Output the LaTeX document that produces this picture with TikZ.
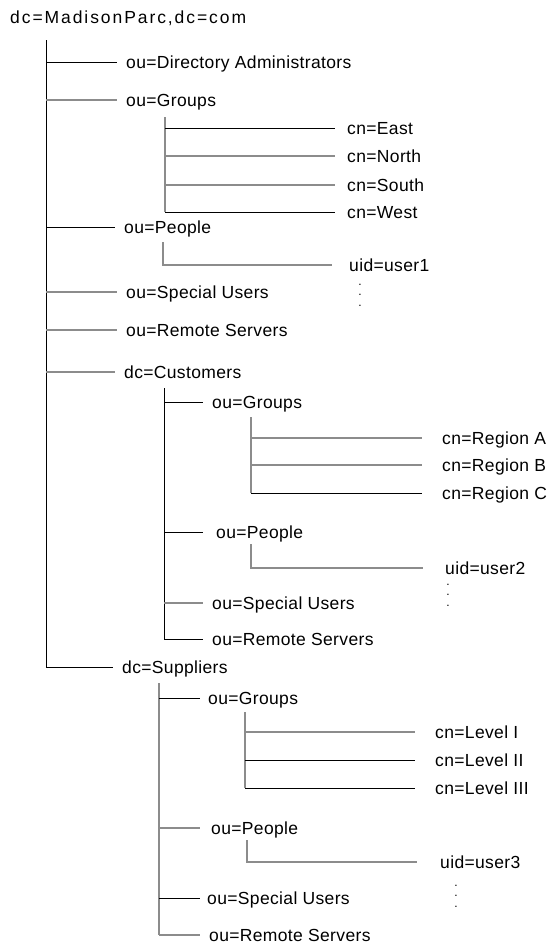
\documentclass[tikz,border=0pt]{standalone}
\usepackage{fontspec}
\setmainfont{Liberation Sans}[LetterSpace=2]
\newfontfamily\rootfont{Liberation Sans}[LetterSpace=11]
\usepackage{tikz}
\usetikzlibrary{calc}

\tikzset{
  entry/.style={anchor=west, inner xsep=9pt, inner ysep=0pt, text height=12.6pt, text depth=0pt},
  leaf/.style={entry, inner xsep=20pt},
  more/.style={anchor=north, inner sep=0pt, align=center, font=\fontsize{12}{10.5}\selectfont},
  ln/.style={draw=black, line width=0.8pt},
  lg/.style={draw=black!45, line width=1.4pt}
}

\begin{document}
\begin{tikzpicture}[x=1pt, y=-1pt, font=\fontsize{17.5}{20}\selectfont]
  \useasboundingbox (0,0) rectangle (553,948);

  % Root entry
  \node[entry, inner xsep=0pt, font=\fontsize{17.5}{20}\rootfont] (root) at (10,17) {dc=MadisonParc,dc=com};
  \coordinate (rootsp) at (46,40);

  % First level
  \node[entry] (diradm) at (117,62) {ou=Directory Administrators};
  \node[entry] (groups) at (117,100) {ou=Groups};
  \node[entry] (people) at (115,227) {ou=People};
  \node[entry] (special) at (117,292) {ou=Special Users};
  \node[entry] (remote) at (117,330) {ou=Remote Servers};
  \node[entry] (cust) at (115,372) {dc=Customers};
  \node[entry] (supp) at (113,667) {dc=Suppliers};

  \draw[ln] (rootsp) -- (rootsp |- supp.west);
  \draw[ln] (rootsp |- diradm.west) -- (diradm.west);
  \draw[lg] (rootsp |- groups.west) -- (groups.west);
  \draw[ln] (rootsp |- people.west) -- (people.west);
  \draw[lg] (rootsp |- special.west) -- (special.west);
  \draw[lg] (rootsp |- remote.west) -- (remote.west);
  \draw[lg] (rootsp |- cust.west) -- (cust.west);
  \draw[ln] (rootsp |- supp.west) -- (supp.west);

  % Groups
  \coordinate (groupsp) at (165,117);
  \node[entry, inner xsep=12pt] (east) at (335,128) {cn=East};
  \node[entry, inner xsep=12pt] (north) at (335,156) {cn=North};
  \node[entry, inner xsep=12pt] (south) at (335,185) {cn=South};
  \node[entry, inner xsep=12pt] (west) at (335,212) {cn=West};
  \draw[lg] (groupsp) -- (groupsp |- west.west);
  \draw[ln] (groupsp |- east.west) -- (east.west);
  \draw[lg] (groupsp |- north.west) -- (north.west);
  \draw[lg] (groupsp |- south.west) -- (south.west);
  \draw[ln] (groupsp |- west.west) -- (west.west);

  % People
  \coordinate (peoplesp) at (163,242);
  \node[entry, inner xsep=17pt] (user1) at (332,265) {uid=user1};
  \draw[lg] (peoplesp) |- (user1.west);
  \node[more] (more1) at (360,284) {.\\.\\.};

  % Customers
  \coordinate (custsp) at (164,388);
  \node[entry] (cgroups) at (203,402) {ou=Groups};
  \node[entry, inner xsep=13pt] (cpeople) at (203,532) {ou=People};
  \node[entry] (cspecial) at (203,603) {ou=Special Users};
  \node[entry] (cremote) at (203,639) {ou=Remote Servers};
  \draw[ln] (custsp) -- (custsp |- cremote.west);
  \draw[ln] (custsp |- cgroups.west) -- (cgroups.west);
  \draw[ln] (custsp |- cpeople.west) -- (cpeople.west);
  \draw[lg] (custsp |- cspecial.west) -- (cspecial.west);
  \draw[ln] (custsp |- cremote.west) -- (cremote.west);

  \coordinate (cgroupsp) at (251,417);
  \node[leaf] (rega) at (422,438) {cn=Region A};
  \node[leaf] (regb) at (422,465) {cn=Region B};
  \node[leaf] (regc) at (422,493) {cn=Region C};
  \draw[lg] (cgroupsp) -- (cgroupsp |- regc.west);
  \draw[lg] (cgroupsp |- rega.west) -- (rega.west);
  \draw[lg] (cgroupsp |- regb.west) -- (regb.west);
  \draw[ln] (cgroupsp |- regc.west) -- (regc.west);

  \coordinate (cpeoplesp) at (251,544);
  \node[leaf, inner xsep=22pt] (user2) at (423,568) {uid=user2};
  \draw[lg] (cpeoplesp) |- (user2.west);
  \node[more] (more2) at (448,584) {.\\.\\.};

  % Suppliers
  \coordinate (suppsp) at (159,683);
  \node[entry, inner xsep=8pt] (sgroups) at (200,698) {ou=Groups};
  \node[entry, inner xsep=11pt] (speople) at (200,828) {ou=People};
  \node[entry, inner xsep=7pt] (sspecial) at (200,898) {ou=Special Users};
  \node[entry] (sremote) at (200,935) {ou=Remote Servers};
  \draw[lg] (suppsp) -- (suppsp |- sremote.west);
  \draw[ln] (suppsp |- sgroups.west) -- (sgroups.west);
  \draw[lg] (suppsp |- speople.west) -- (speople.west);
  \draw[ln] (suppsp |- sspecial.west) -- (sspecial.west);
  \draw[lg] (suppsp |- sremote.west) -- (sremote.west);

  \coordinate (sgroupsp) at (245,712);
  \node[leaf] (lev1) at (415,732) {cn=Level I};
  \node[leaf] (lev2) at (415,760) {cn=Level II};
  \node[leaf] (lev3) at (415,788) {cn=Level III};
  \draw[lg] (sgroupsp) -- (sgroupsp |- lev3.west);
  \draw[lg] (sgroupsp |- lev1.west) -- (lev1.west);
  \draw[ln] (sgroupsp |- lev2.west) -- (lev2.west);
  \draw[ln] (sgroupsp |- lev3.west) -- (lev3.west);

  \coordinate (speoplesp) at (247,840);
  \node[leaf, inner xsep=23pt] (user3) at (417,862) {uid=user3};
  \draw[lg] (speoplesp) |- (user3.west);
  \node[more] (more3) at (456,885) {.\\.\\.};
\end{tikzpicture}
\end{document}
